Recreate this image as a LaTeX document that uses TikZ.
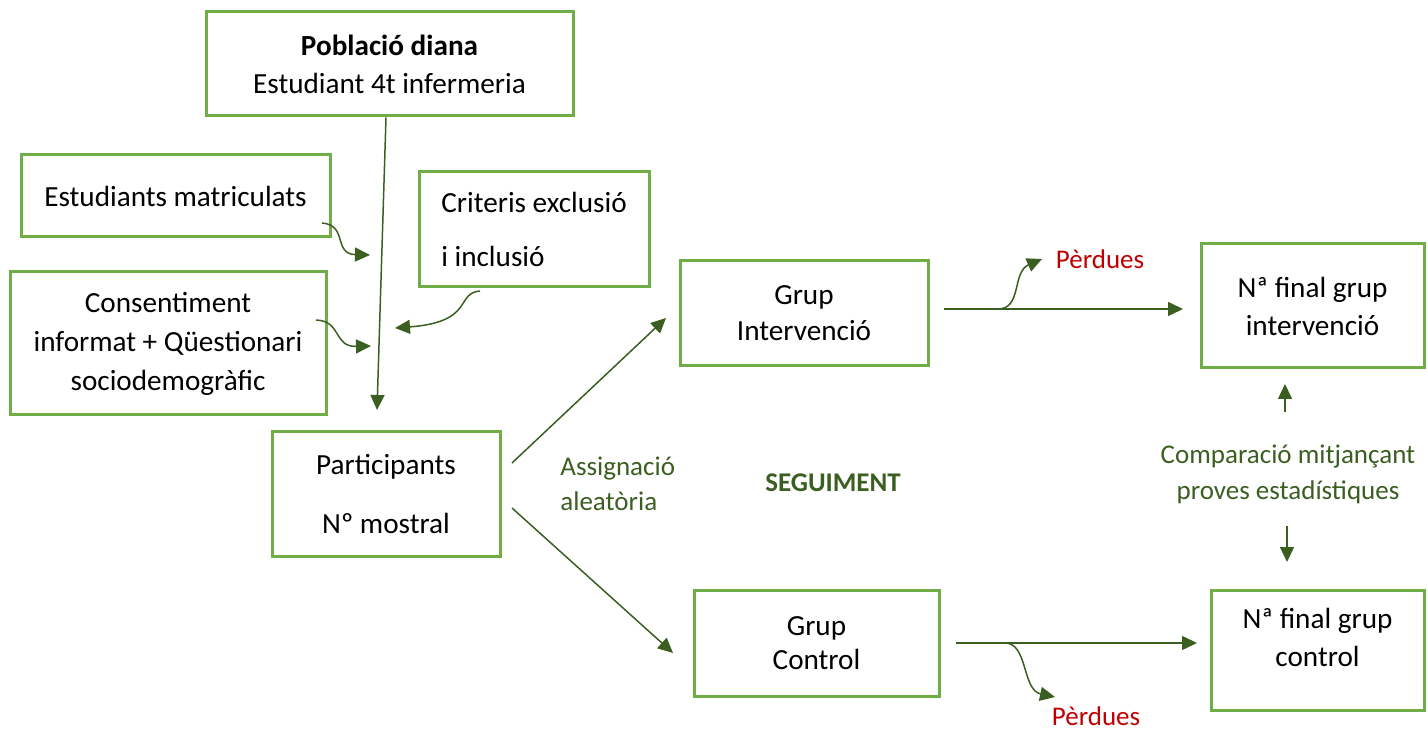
\documentclass[tikz,border=0pt]{standalone}
\usepackage{fontspec}
\setmainfont{Carlito}
\usetikzlibrary{arrows.meta}
\definecolor{boxgreen}{HTML}{70AD47}
\definecolor{arrgreen}{HTML}{3B5E21}
\definecolor{lossred}{HTML}{C00000}
\begin{document}
\begin{tikzpicture}[x=0.5pt,y=-0.5pt,
  box/.style={draw=boxgreen,line width=1.5pt,align=center,inner sep=0pt,font=\fontsize{14.6}{19}\selectfont},
  arr/.style={draw=arrgreen,line width=0.75pt,-{Triangle[length=7.5pt,width=7pt]}},
  lbl/.style={text=arrgreen,font=\fontsize{13.5}{18}\selectfont,inner sep=0pt},
  red/.style={text=lossred,font=\fontsize{13.5}{14}\selectfont,inner sep=0pt}]
\useasboundingbox (0,0) rectangle (1428,731);
% boxes
\node[box,minimum width=183.5pt,minimum height=52pt] (pob) at (389.5,64) {\textbf{Població diana}\\Estudiant 4t infermeria};
\node[box,minimum width=154.5pt,minimum height=41pt] (mat) at (175.5,196) {Estudiants matriculats};
\node[box,minimum width=115pt,minimum height=57.5pt,align=left,font=\fontsize{14.6}{27}\selectfont] (cri) at (534,229.5) {Criteris exclusió\\i inclusió};
\node[box,minimum width=158pt,minimum height=71.5pt,font=\fontsize{14.6}{19.5}\selectfont] (con) at (168,343.5) {Consentiment\\informat + Qüestionari\\sociodemogràfic};
\node[box,minimum width=114pt,minimum height=62pt,font=\fontsize{14.6}{29.5}\selectfont] (par) at (386,494) {Participants\\Nº mostral};
\node[box,minimum width=124pt,minimum height=52.5pt,font=\fontsize{14.6}{18}\selectfont] (gi) at (804,313.5) {Grup\\Intervenció};
\node[box,minimum width=122.5pt,minimum height=53pt,font=\fontsize{14.6}{17}\selectfont] (gc) at (816.5,643) {Grup\\Control};
\node[box,minimum width=111.5pt,minimum height=62pt] (fi) at (1312.5,306) {Nª final grup\\intervenció};
\node[box,minimum width=106.5pt,minimum height=60pt,text height=17pt] (fc) at (1317.5,650) {Nª final grup\\control};
% labels
\node[lbl,align=left,anchor=west,font=\fontsize{13.5}{17.5}\selectfont] (asg) at (560,484) {Assignació\\aleatòria};
\node[lbl,font=\fontsize{13.5}{14}\selectfont\bfseries] (seg) at (833,483) {SEGUIMENT};
\node[lbl,align=center] (cmp) at (1288,474) {Comparació mitjançant\\proves estadístiques};
\node[red] (p1) at (1100,259) {Pèrdues};
\node[red] (p2) at (1096,716) {Pèrdues};
% coordinates
\coordinate (a1) at (377,410);
\coordinate (m1) at (322,223); \coordinate (m2) at (370,255);
\coordinate (c1) at (316,320); \coordinate (c2) at (371,346);
\coordinate (k1) at (480,291); \coordinate (k2) at (395,328);
\coordinate (i1) at (944,309); \coordinate (i2) at (1183,309);
\coordinate (ib) at (998,309); \coordinate (ip) at (1042,259);
\coordinate (g1) at (956,643); \coordinate (g2) at (1197,643);
\coordinate (gb) at (1005,643); \coordinate (gp) at (1055,697);
\coordinate (s1) at (512,463); \coordinate (s2) at (666,318);
\coordinate (t1) at (512,508); \coordinate (t2) at (673,653);
\coordinate (u1) at (1285,412); \coordinate (u2) at (1285,384);
\coordinate (d1) at (1287,526); \coordinate (d2) at (1287,562);
% connectors
\draw[arr] ([xshift=-1.75pt]pob.south) -- (a1);
\draw[arr] (m1) .. controls (348,225) and (333,254) .. (m2);
\draw[arr] (c1) .. controls (342,321) and (333,347) .. (c2);
\draw[arr] (k1) .. controls (455,293) and (475,322) .. (k2);
\draw[arr] (s1) -- (s2);
\draw[arr] (t1) -- (t2);
\draw[arr] (i1) -- (i2);
\draw[arr] (ib) .. controls (1022,309) and (1012,272) .. (ip);
\draw[arr] (g1) -- (g2);
\draw[arr] (gb) .. controls (1028,643) and (1022,690) .. (gp);
\draw[arr] (u1) -- (u2);
\draw[arr] (d1) -- (d2);
\end{tikzpicture}
\end{document}
